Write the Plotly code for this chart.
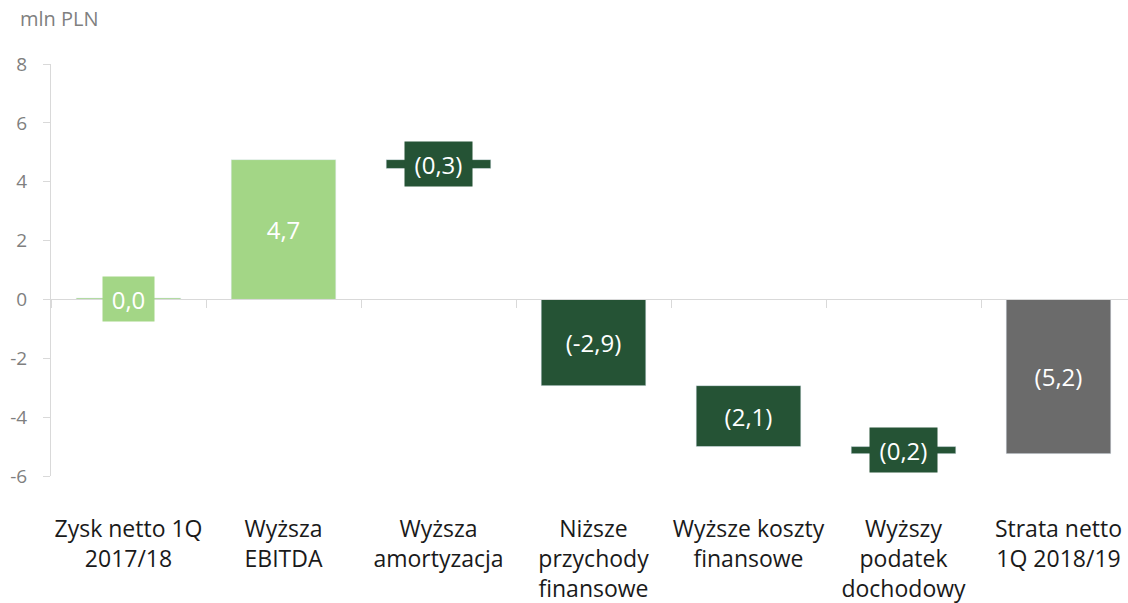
import plotly.graph_objects as go

# data
categories = ["Zysk netto 1Q<br>2017/18", "Wyższa<br>EBITDA", "Wyższa<br>amortyzacja",
              "Niższe<br>przychody<br>finansowe", "Wyższe koszty<br>finansowe",
              "Wyższy<br>podatek<br>dochodowy", "Strata netto<br>1Q 2018/19"]
starts = [0, 0, 4.75, 0, -2.93, -5.0, 0]
ends = [0.05, 4.75, 4.45, -2.93, -5.0, -5.24, -5.24]
labels = ["0,0", "4,7", "(0,3)", "(-2,9)", "(2,1)", "(0,2)", "(5,2)"]
kinds = ["up", "up", "down", "down", "down", "down", "total"]
y_ticks = [-6, -4, -2, 0, 2, 4, 6, 8]

colors = {"up": "#a3d686", "down": "#255335", "total": "#6b6b6b"}
bar_colors = [colors[k] for k in kinds]
heights = [e - s for s, e in zip(starts, ends)]
font = "Open Sans"

# thin bars get their label in a coloured box instead of inside the bar
thin = [abs(h) < 1 for h in heights]
inside_text = ["" if t else lab for t, lab in zip(thin, labels)]

fig = go.Figure()
fig.add_trace(go.Bar(x=categories, y=heights, base=starts, marker_color=bar_colors,
                     text=inside_text, textposition="inside", insidetextanchor="middle",
                     textfont=dict(family=font, size=24, color="white"),
                     hoverinfo="skip", showlegend=False))
# invisible trace so the zero axis (with category separators) is drawn
fig.add_trace(go.Scatter(x=categories, y=[0] * len(categories), xaxis="x2",
                         mode="markers", marker=dict(opacity=0),
                         hoverinfo="skip", showlegend=False))

for cat, s, e, lab, t, c in zip(categories, starts, ends, labels, thin, bar_colors):
    if t:
        fig.add_annotation(x=cat, y=(s + e) / 2, text=lab, showarrow=False,
                           bgcolor=c, borderpad=0, width=8 * len(lab) + 27, height=44,
                           font=dict(family=font, size=24, color="white"))

# unit label in the top left corner
fig.add_annotation(text="mln PLN", xref="paper", yref="paper",
                   x=(18 - 51) / 1085, y=1 + (64 - 18) / 412,
                   xanchor="left", yanchor="middle", showarrow=False,
                   font=dict(family=font, size=20, color="#7f7f7f"))

ymin, ymax = -6, 8
fig.update_layout(
    # the original chart runs slightly past the right edge of the window
    width=1136, height=603,
    margin=dict(l=51, r=0, t=64, b=127),
    plot_bgcolor="white", paper_bgcolor="white",
    bargap=0.325,
    font=dict(family=font),
    xaxis=dict(showline=False, ticks="", showgrid=False, zeroline=False, automargin=False,
               tickfont=dict(family=font, size=23, color="#1a1a1a"),
               ticklabelstandoff=37),
    xaxis2=dict(overlaying="x", anchor="free", position=(0 - ymin) / (ymax - ymin),
                matches="x", showline=True, linecolor="#d9d9d9", linewidth=1,
                ticks="outside", tickson="boundaries", ticklen=8, tickcolor="#d9d9d9",
                showticklabels=False, showgrid=False, zeroline=False, automargin=False),
    yaxis=dict(range=[ymin, ymax], tickvals=y_ticks, ticktext=[str(v) for v in y_ticks],
               showline=True, linecolor="#d9d9d9", automargin=False,
               ticks="outside", ticklen=7, tickcolor="#d9d9d9", showgrid=False,
               zeroline=False, tickfont=dict(family=font, size=19, color="#7f7f7f"),
               ticklabelstandoff=12),
)

# drop the default page margin and scrollbars so the figure sits at the window's corner
fig.write_html("out.html", config={"displayModeBar": False},
               post_script="document.body.style.margin = '0'; document.body.style.overflow = 'hidden';")
